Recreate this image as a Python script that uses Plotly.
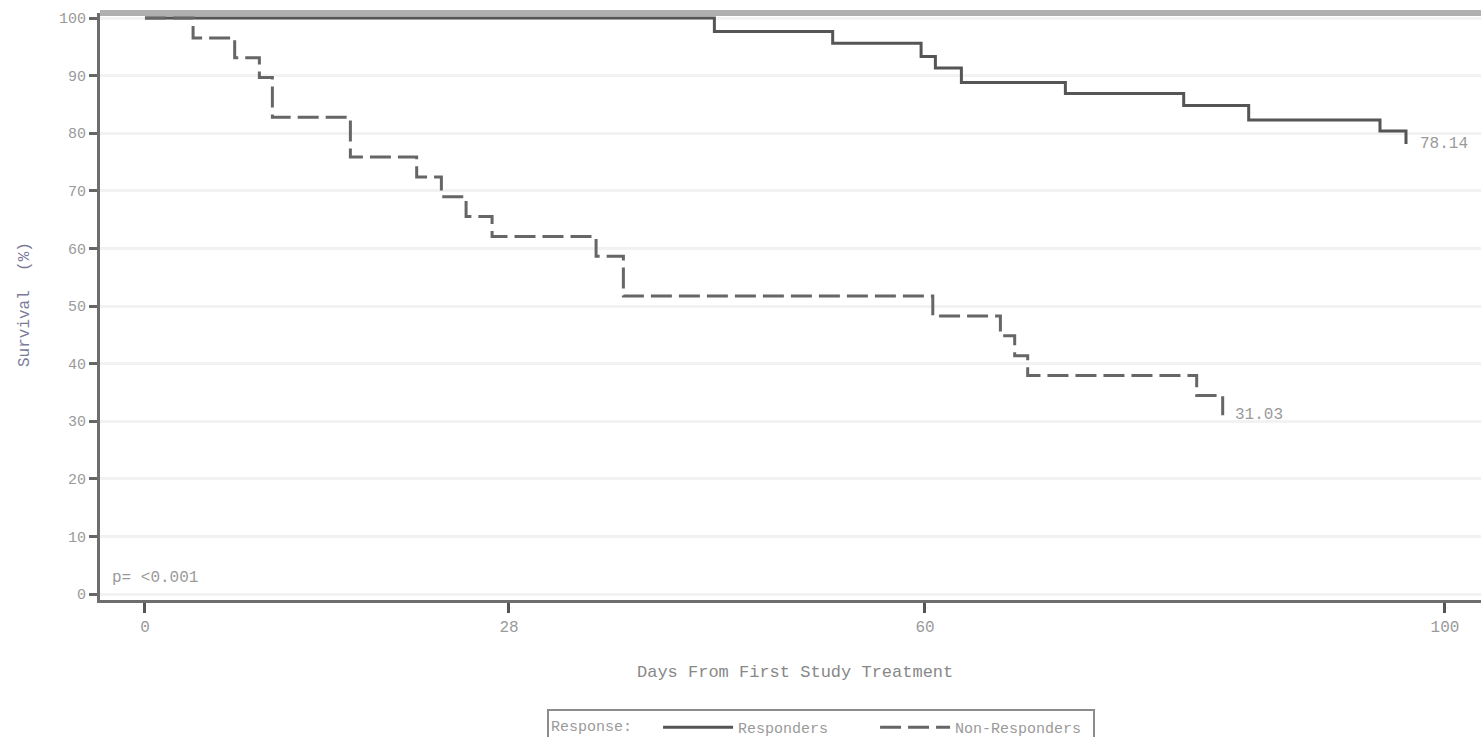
import plotly.graph_objects as go

# ---- data ----
resp_days = [0, 43.8, 52.9, 59.7, 60.8, 62.8, 70.8, 79.9, 84.9, 95.0, 97.0]
resp_surv = [100, 97.67, 95.6, 93.3, 91.3, 88.8, 86.9, 84.8, 82.3, 80.4, 78.14]

nonresp_days = [0, 3.7, 6.9, 8.8, 9.8, 15.8, 20.9, 22.8, 24.7, 26.7, 34.7, 36.8,
                60.6, 65.8, 66.9, 67.9, 80.9, 82.9]
nonresp_surv = [100, 96.55, 93.10, 89.66, 82.76, 75.86, 72.41, 68.97, 65.52, 62.07,
                58.62, 51.72, 48.28, 44.83, 41.38, 37.93, 34.48, 31.03]

x_ticks = [0, 28, 60, 100]
y_ticks = [0, 10, 20, 30, 40, 50, 60, 70, 80, 90, 100]
p_text = "p= <0.001"

FONT = "Liberation Mono"
TXT = "#9a9a9a"

fig = go.Figure()
fig.add_trace(go.Scatter(
    x=resp_days, y=resp_surv, mode="lines", line_shape="hv",
    name="Responders", line=dict(color="#555555", width=3)))
fig.add_trace(go.Scatter(
    x=nonresp_days, y=nonresp_surv, mode="lines", line_shape="hv",
    name="Non-Responders", line=dict(color="#666666", width=3, dash="21px,7px")))

annotations = [
    dict(x=resp_days[-1], y=resp_surv[-1], text=f"{resp_surv[-1]:.2f}", showarrow=False,
         xanchor="left", yanchor="middle", xshift=12, font=dict(family=FONT, size=16, color=TXT)),
    dict(x=nonresp_days[-1], y=nonresp_surv[-1], text=f"{nonresp_surv[-1]:.2f}", showarrow=False,
         xanchor="left", yanchor="middle", xshift=10, font=dict(family=FONT, size=16, color=TXT)),
    dict(x=0.0072, xref="paper", y=2.8, text=p_text, showarrow=False,
         xanchor="left", yanchor="middle", font=dict(family=FONT, size=16, color=TXT)),
    dict(x=0.5033, xref="paper", y=-0.1227, yref="paper", text="Days From First Study Treatment",
         showarrow=False, xanchor="center", yanchor="middle",
         font=dict(family=FONT, size=17, color="#888888")),
    dict(x=-0.0543, xref="paper", y=0.5026, yref="paper", text="Survival  (%)", textangle=-90,
         showarrow=False, xanchor="center", yanchor="middle",
         font=dict(family=FONT, size=16, color="#7a7a9a")),
]

fig.update_layout(
    width=1481, height=737,
    margin=dict(l=100, r=0, t=13, b=137, autoexpand=False),
    paper_bgcolor="white", plot_bgcolor="white",
    font=dict(family=FONT, size=15, color=TXT),
    showlegend=True,
    legend=dict(orientation="h", x=0.3237, xanchor="left", y=-0.1857, yanchor="top",
                title=dict(text="Response:  ", side="left", font=dict(family=FONT, size=15, color=TXT)),
                font=dict(family=FONT, size=15, color=TXT),
                bordercolor="#8c8c8c", borderwidth=2, bgcolor="white",
                entrywidth=132, entrywidthmode="pixels", itemwidth=70),
    annotations=annotations,
    shapes=[dict(type="line", xref="paper", yref="paper", x0=0, x1=1, y0=1, y1=1,
                 line=dict(color="#b0b0b0", width=6))],
)
fig.update_xaxes(range=[-3.46, 102.77], tickvals=x_ticks, ticktext=[str(v) for v in x_ticks],
                 showline=True, linecolor="#6e6e6e", linewidth=3, ticks="outside",
                 ticklen=10, tickwidth=3, tickcolor="#555555", showgrid=False, zeroline=False,
                 tickfont=dict(family=FONT, size=16, color=TXT))
fig.update_yaxes(range=[-1.04, 100.87], tickvals=y_ticks, ticktext=[str(v) for v in y_ticks],
                 showline=True, linecolor="#6e6e6e", linewidth=3, ticks="outside",
                 ticklen=8, tickwidth=3, tickcolor="#666666", showgrid=True,
                 gridcolor="#f2f2f2", gridwidth=3, zeroline=False,
                 tickfont=dict(family=FONT, size=15, color=TXT))

fig.write_html("out.html", config={"displayModeBar": False},
               post_script="document.body.style.margin='0px';")
